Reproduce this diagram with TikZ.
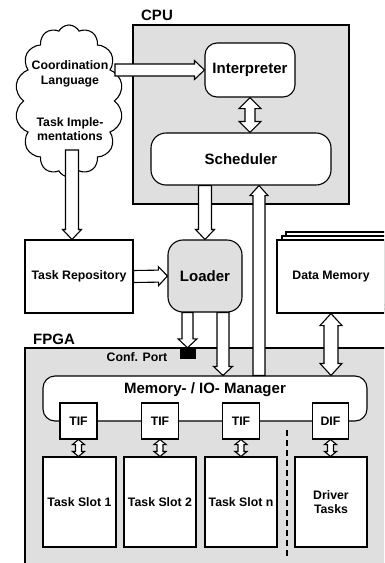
\documentclass[tikz,border=0pt]{standalone}
\usepackage{fontspec}
\setmainfont{Liberation Sans}
\usetikzlibrary{shapes.symbols,calc}
\tikzset{
  lw/.style={line width=1.1pt},
  txt/.style={font=\bfseries\fontsize{12.3}{14.5}\selectfont, align=center, inner sep=0pt},
  bigtxt/.style={font=\bfseries\fontsize{15}{17}\selectfont, align=center, inner sep=0pt},
  sz/.style 2 args={minimum width=#1pt, minimum height=#2pt},
  box/.style={draw, lw, fill=white, txt},
  rbox/.style={box, rounded corners=#1},
  grayfill/.style={fill=gray!25},
  blockarrow/.style={draw, lw, fill=white, line join=miter},
}
\newcommand\barrow[5]{%
  \draw[blockarrow] let \p1=(#1), \p2=(#2), \n1={veclen(\x2-\x1,\y2-\y1)}, \n2={atan2(\y2-\y1,\x2-\x1)} in
   [shift={(\p1)}, rotate=\n2]
   (0,-#3) -- ({\n1-#5},-#3) -- ({\n1-#5},-#4) -- (\n1,0) -- ({\n1-#5},#4) -- ({\n1-#5},#3) -- (0,#3) -- cycle;}
\newcommand\dbarrow[5]{%
  \draw[blockarrow] let \p1=(#1), \p2=(#2), \n1={veclen(\x2-\x1,\y2-\y1)}, \n2={atan2(\y2-\y1,\x2-\x1)} in
   [shift={(\p1)}, rotate=\n2]
   (0,0) -- (#5,#4) -- (#5,#3) -- ({\n1-#5},#3) -- ({\n1-#5},#4) -- (\n1,0) -- ({\n1-#5},-#4) -- ({\n1-#5},-#3) -- (#5,-#3) -- (#5,-#4) -- cycle;}
\begin{document}
\begin{tikzpicture}[x=1pt, y=-1pt]
\clip (0,0) rectangle (384,563);
\fill[white] (0,0) rectangle (384,563);

% CPU and FPGA areas
\draw[lw, grayfill] (133,25) rectangle (349,204);
\node[bigtxt] (cpulbl) at (157,15) {CPU};
\draw[lw, grayfill] (25,348) rectangle (400,600);
\node[bigtxt] (fpgalbl) at (54,339) {FPGA};
\node[txt] (cplbl) at (137,357) {Conf. Port};

% cloud
\node[cloud, draw, lw, fill=white, cloud puffs=14, cloud puff arc=125, cloud ignores aspect, sz={108}{152}] (cloud) at (69,101) {};
\node[txt] (coordtxt) at (70,74) {Coordination\\Language};
\node[txt] (impltxt) at (70,129) {Task Imple-\\mentations};

% CPU content
\node[rbox=12pt, bigtxt, sz={90}{54}] (interp) at (250,70) {Interpreter};
\node[rbox=15pt, bigtxt, sz={180}{52}] (sched) at (241,159) {Scheduler};

% middle row
\node[box, sz={108}{73}] (repo) at (79,276.5) {Task Repository};
\node[rbox=15pt, bigtxt, grayfill, sz={74}{72}] (loader) at (205,276) {Loader};
\node[box, sz={114}{73}] (dm3) at (343,268.5) {};
\node[box, sz={112}{73}] (dm2) at (338,272.5) {};
\node[box, sz={108}{73}] (dm) at (331,276.5) {Data Memory};

% FPGA content
\node[draw, fill=black, minimum width=15pt, minimum height=10pt, inner sep=0pt] (cp) at (187.5,353) {};
\node[rbox=12pt, sz={324}{45}] (mem) at (205,398.5) {};
\node[bigtxt] (memtxt) at (205,390) {Memory- / IO- Manager};
\node[box, sz={37}{36}] (t1) at (78.5,421) {TIF};
\node[box, sz={37}{36}] (t2) at (160,421) {TIF};
\node[box, sz={37}{36}] (t3) at (241,421) {TIF};
\node[box, sz={36}{36}] (dif) at (330.5,421) {DIF};
\node[box, sz={73}{90}] (s1) at (79.5,502) {Task Slot 1};
\node[box, sz={72}{90}] (s2) at (160,502) {Task Slot 2};
\node[box, sz={72}{90}] (s3) at (241,502) {Task Slot n};
\node[box, sz={72}{90}] (drv) at (331,502) {Driver\\Tasks};
\coordinate (d1) at (287,430);
\coordinate (d2) at (287,558);
\draw[lw, dash pattern=on 6pt off 4pt] (d1) -- (d2);

% arrows
\coordinate (c1) at (115,70);
\coordinate (c2) at (72,150);
\coordinate (c3) at (259,0);
\coordinate (c4) at (223,0);
\barrow{c1}{c1 -| interp.west}{6}{9.5}{10}
\barrow{c2}{c2 |- repo.north}{6.5}{9.5}{10}
\dbarrow{interp.south}{interp.south |- sched.north}{5}{11}{11}
\barrow{loader.north |- sched.south}{loader.north}{6.5}{9.5}{10}
\barrow{repo.east}{loader.west}{6}{9.5}{9}
\barrow{c3 |- mem.north}{c3 |- sched.south}{6}{9}{10}
\barrow{cp.north |- loader.south}{cp.north}{5.5}{9.5}{9}
\barrow{c4 |- loader.south}{c4 |- mem.north}{6}{9.5}{9}
\dbarrow{dm.south}{dm.south |- mem.north}{7}{11}{12}
\dbarrow{t1.south}{t1.south |- s1.north}{3}{6}{5}
\dbarrow{t2.south}{t2.south |- s2.north}{3}{6}{5}
\dbarrow{t3.south}{t3.south |- s3.north}{3}{6}{5}
\dbarrow{dif.south}{dif.south |- drv.north}{3}{6}{5}
\end{tikzpicture}
\end{document}
